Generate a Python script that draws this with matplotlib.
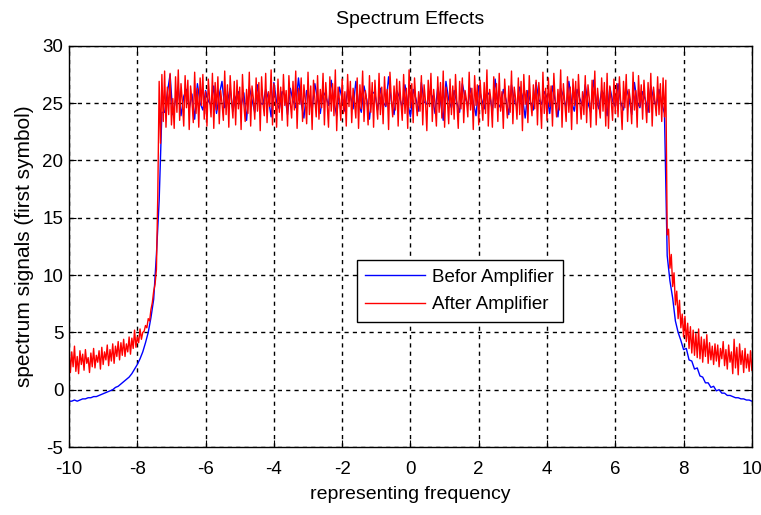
import numpy as np
import matplotlib.pyplot as plt

plt.rcParams['font.family'] = ['Liberation Sans', 'DejaVu Sans']
plt.rcParams['axes.unicode_minus'] = False

# frequency axes (blue sampled coarser than red)
freq_before = np.linspace(-10, 10, 251)
freq_after = np.linspace(-10, 10, 501)

# before amplifier (blue)
before_left = [-1.0, -1.0, -0.9, -1.0, -0.9, -0.8, -0.8, -0.7, -0.7, -0.6, -0.6,
               -0.5, -0.4, -0.3, -0.2, -0.1, 0.0, 0.2, 0.3, 0.5, 0.7, 0.9, 1.1,
               1.4, 1.8, 2.2, 2.7, 3.3, 4.1, 5.0, 6.3, 7.9, 11.8]
before_mid = [16.5, 24.2, 24.2, 25.9, 27.5, 24.0, 25.3, 26.4, 23.9, 25.6,
              26.2, 24.5, 25.8, 23.6, 26.7, 25.0, 24.4, 26.1, 25.2, 24.8,
              26.5, 24.1, 25.7, 26.9, 24.6, 25.1, 26.3, 24.3, 25.5, 26.0,
              24.7, 25.9, 23.5, 26.4, 25.3, 24.2, 26.6, 25.0, 24.9, 26.2,
              25.4, 23.8, 26.8, 25.1, 24.5, 26.0, 25.7, 24.0, 26.3, 25.2,
              24.6, 27.2, 25.0, 23.7, 26.1, 25.5, 24.4, 26.7, 25.3, 24.1,
              26.0, 25.6, 24.8, 27.0, 25.1, 23.9, 26.4, 25.4, 24.3, 26.2,
              25.7, 24.5, 26.9, 25.0, 24.2, 26.5, 25.3, 23.6, 26.0, 25.8,
              24.4, 26.3, 25.1, 24.7, 27.3, 25.2, 24.0, 26.1, 25.5, 24.6,
              26.6, 25.0, 23.8, 26.2, 25.4, 24.3, 26.8, 25.1, 24.9, 26.0,
              25.6, 24.1, 26.4, 25.2, 23.5, 26.9, 25.3, 24.6, 26.1, 25.0,
              24.2, 26.7, 25.5, 24.8, 26.3, 25.1, 23.9, 26.5, 25.4, 24.5,
              26.0, 25.7, 24.3, 27.1, 25.0, 24.6, 26.2, 25.3, 24.0, 26.6,
              25.2, 24.7, 26.4, 25.6, 23.7, 26.1, 25.0, 24.4, 26.8, 25.3,
              24.9, 26.0, 25.5, 24.1, 26.5, 25.2, 23.8, 26.3, 25.6, 24.6,
              26.9, 25.1, 24.3, 26.2, 25.4, 24.8, 26.6, 25.0, 24.2, 27.0,
              25.3, 24.5, 26.1, 25.7, 23.9, 26.4, 25.2, 24.7, 26.7, 25.0,
              24.4, 26.3, 25.5, 24.0, 26.8, 25.1, 24.6, 26.0, 25.3, 24.2,
              26.5, 25.4, 24.7, 26.2, 25.0, 24.1]
before_right = [11.7, 9.5, 8.0, 6.0, 5.0, 4.3, 3.5, 3.6, 2.6, 2.5, 1.8, 1.9,
                1.2, 1.1, 0.6, 0.6, 0.2, 0.3, -0.1, 0.0, -0.3, -0.3, -0.5,
                -0.5, -0.6, -0.7, -0.7, -0.8, -0.8, -0.9, -0.9, -1.0]

# after amplifier (red)
after_left = [3.6, 1.5, 3.3, 2.0, 3.8, 1.6, 2.9, 1.4, 3.4, 2.2,
              3.1, 1.7, 3.5, 2.3, 2.8, 1.5, 3.2, 2.0, 3.6, 1.9,
              3.0, 2.4, 3.4, 1.8, 3.7, 2.2, 3.3, 2.6, 3.9, 2.1,
              3.5, 2.5, 4.0, 2.3, 3.8, 2.9, 4.2, 2.6, 4.1, 3.0,
              4.4, 2.9, 4.0, 3.3, 4.6, 3.1, 4.5, 3.6, 5.2, 3.7,
              4.6, 4.1, 5.3, 4.4, 5.0, 5.1, 5.6, 5.4, 6.2, 6.0,
              7.0, 7.6, 8.6, 9.2, 10.5, 17.0]
after_mid = [26.9, 21.5, 27.5, 23.4, 27.8, 22.9, 26.4, 24.0, 27.6, 23.1, 25.4, 22.8,
             27.3, 24.2, 27.9, 23.5, 26.7, 25.1, 23.0, 27.4, 24.6, 27.0, 22.7, 26.5,
             25.2, 23.3, 27.7, 24.1, 26.3, 22.9, 27.2, 24.8, 27.5, 23.6, 26.0, 23.0,
             27.1, 25.3, 23.8, 27.6, 22.8, 26.8, 24.4, 27.3, 23.2, 26.1, 25.0, 23.5,
             27.8, 24.0, 26.6, 22.9, 27.4, 25.2, 23.7, 26.9, 23.1, 27.0, 24.5, 26.4,
             22.7, 27.5, 24.9, 23.4, 26.2, 24.1, 27.7, 23.0, 26.5, 25.4, 23.6, 27.2,
             24.3, 26.8, 22.6, 27.3, 25.0, 23.9, 27.6, 23.3, 26.0, 24.7, 27.9, 23.1,
             26.7, 25.3, 22.9, 27.1, 24.2, 26.4, 23.5, 27.5, 24.8, 26.1, 23.0, 27.4,
             25.1, 23.7, 26.9, 24.4, 27.8, 22.8, 26.3, 24.9, 27.2, 23.4, 26.6, 25.2,
             23.2, 27.7, 24.0, 26.5, 22.7, 27.0, 25.4, 23.8, 27.4, 23.6, 26.2, 24.6,
             27.6, 23.1, 26.8, 25.0, 22.9, 27.3, 24.3, 26.7, 23.9, 27.9, 22.6, 26.4,
             25.3, 23.5, 27.1, 24.1, 26.0, 23.0, 27.5, 24.7, 26.9, 23.3, 26.3, 25.1,
             23.7, 27.2, 22.8, 26.6, 24.5, 27.8, 23.4, 26.1, 25.2, 23.1, 27.4, 24.2,
             26.8, 22.9, 27.0, 25.0, 23.6, 27.6, 24.0, 26.4, 23.2, 27.3, 24.8, 26.2,
             22.7, 27.7, 25.3, 23.8, 26.5, 24.4, 27.1, 23.0, 26.9, 25.1, 23.5, 27.5,
             24.1, 26.3, 22.8, 27.9, 24.6, 26.7, 23.3, 27.2, 25.0, 23.9, 26.0, 24.3,
             27.4, 23.1, 26.6, 25.2, 22.6, 27.0, 24.7, 27.6, 23.4, 26.2, 24.9, 23.0,
             27.3, 24.2, 26.8, 23.7, 27.8, 22.9, 26.4, 25.4, 23.2, 27.1, 24.0, 26.5,
             23.6, 27.5, 25.0, 22.8, 26.9, 24.5, 27.2, 23.3, 26.1, 25.3, 23.8, 27.7,
             24.4, 26.3, 22.7, 27.4, 24.8, 26.6, 23.1, 27.0, 25.1, 23.5, 26.8, 24.1,
             27.9, 23.0, 26.2, 25.2, 22.9, 27.3, 24.6, 26.7, 23.4, 27.6, 24.3, 26.0,
             22.8, 27.1, 25.0, 23.7, 26.5, 24.2, 27.8, 23.2, 26.4, 25.4, 23.6, 27.2,
             24.0, 26.9, 22.6, 27.5, 24.9, 26.1, 23.3, 27.4, 25.1, 23.9, 26.6, 24.5,
             27.0, 23.1, 26.8, 25.3, 22.8, 27.7, 24.1, 26.3, 23.5, 27.2, 24.7, 26.5,
             23.0, 27.6, 25.2, 23.8, 26.2, 24.4, 27.9, 22.9, 26.7, 25.0, 23.4, 27.3,
             24.2, 26.4, 22.7, 27.1, 24.8, 26.9, 23.2, 27.5, 25.1, 23.6, 26.0, 24.0,
             27.4, 23.3, 26.6, 25.4, 22.9, 27.0, 24.5, 27.8, 23.1, 26.3, 24.9, 23.7,
             27.2, 24.3, 26.8, 23.0, 27.6, 22.8, 26.5, 25.2, 23.5, 27.1, 24.1, 26.7,
             23.8, 27.3, 25.0, 22.7, 26.9, 24.6, 27.5, 23.4, 26.2, 25.3, 23.2, 27.7,
             24.4, 26.1, 22.9, 27.4, 24.7, 26.6, 23.6, 27.0, 25.1, 23.3, 26.8, 24.2,
             27.6, 23.0, 26.4, 25.2, 23.9, 27.3, 24.0, 26.7, 23.4, 27.2, 23.8, 27.0]
after_right = [13.5, 14.0, 10.6, 11.8, 9.0, 10.2, 7.4, 8.6, 6.2, 7.8, 5.4, 6.6,
               4.6, 6.4, 4.2, 5.8, 3.6, 5.5, 3.2, 5.2, 3.0, 4.9, 2.8, 5.3,
               2.7, 4.6, 2.4, 4.4, 2.9, 4.8, 2.3, 4.1, 2.6, 3.8, 2.2, 4.0,
               2.5, 3.9, 2.0, 3.6, 2.7, 4.2, 2.1, 3.5, 1.8, 3.9, 2.4, 3.3,
               1.4, 4.4, 1.9, 3.7, 1.3, 4.0, 2.2, 3.4, 1.5, 3.6, 1.9, 3.1,
               1.6, 3.4, 1.7]

before = np.array(before_left + before_mid + before_right)
after = np.array(after_left + after_mid + after_right)

fig = plt.figure(figsize=(7.61, 5.15), dpi=100)
ax = fig.add_axes([0.0907, 0.132, 0.8973, 0.779])

ax.plot(freq_before, before, color='#0000ff', lw=1.0, label='Befor Amplifier')
ax.plot(freq_after, after, color='#ff0000', lw=1.0, label='After Amplifier')

ax.set_xlim(-10, 10)
ax.set_ylim(-5, 30)
ax.set_xticks(np.arange(-10, 11, 2))
ax.set_yticks(np.arange(-5, 31, 5))
ax.grid(True, color='black', linestyle=(0, (3, 3)), linewidth=1.0)
ax.tick_params(direction='in', top=True, right=True, labelsize=13.5, length=5)
ax.tick_params(axis='x', pad=10)
ax.tick_params(axis='y', pad=4)
for s in ax.spines.values():
    s.set_linewidth(1.0)

ax.set_title('Spectrum Effects', fontsize=14, pad=16)
ax.set_xlabel('representing frequency', fontsize=14, labelpad=6)
ax.set_ylabel('spectrum signals (first symbol)', fontsize=15, labelpad=6)

leg = ax.legend(loc='center', bbox_to_anchor=(0.572, 0.389), fontsize=13.5,
                fancybox=False, framealpha=1, edgecolor='black',
                handlelength=3.2, handletextpad=0.4, borderpad=0.45,
                labelspacing=0.55)
leg.get_frame().set_linewidth(1.0)

fig.savefig('out.png', dpi=100)
